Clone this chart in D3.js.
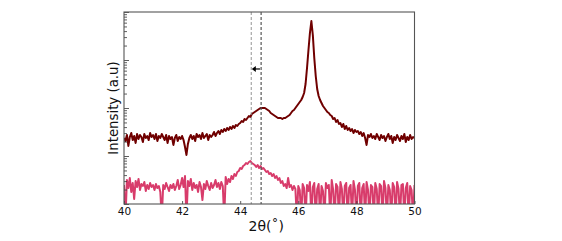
<!DOCTYPE html>
<html>
<head>
<meta charset="utf-8">
<script src="https://cdn.jsdelivr.net/npm/d3@7"></script>
<style>
  html, body { margin: 0; padding: 0; background: #fff; }
  svg { display: block; font-family: "DejaVu Sans", sans-serif; }
</style>
</head>
<body>
<svg id="chart" width="562" height="241"></svg>
<script>
// scan grid (2θ, degrees)
const thetaStart = 40;
const thetaStep = 0.05;

// upper trace, intensity (counts), one value per scan step
const darkRed = [
  237,205,274,162,249,301,215,261,187,287,
  226,274,249,196,287,237,261,215,301,249,
  274,226,287,205,261,237,287,249,215,274,
  187,261,226,249,170,237,274,205,249,226,
  261,
  215,154,105,178,237,274,226,261,205,287,
  249,274,226,301,237,261,287,215,274,249,
  274,316,261,301,332,287,348,316,365,332,
  383,348,402,365,422,383,442,422,464,487,
  536,511,590,562,619,681,649,750,787,825,
  866,909,953,1000,1000,
  1000,1000,953,909,866,787,750,715,681,649,
  619,619,619,590,619,619,649,681,715,787,
  866,909,1000,1101,
  1212,1334,1468,1695,2054,3162,6813,16160,36520,64940,
  33170,11007,4642,2488,1778,1468,1271,1101,1000,909,
  825,
  787,715,681,590,619,511,562,464,487,402,
  464,365,422,348,383,332,365,301,348,316,
  332,287,316,261,301,237,170,274,249,287,
  237,261,226,287,249,215,274,237,261,205,
  249,287,226,261,187,249,215,274,237,205,
  261,226,287,196,249,215,274,226,249,237
];

// lower trace, intensity (counts)
const pink = [
  24.9,5,31.6,21.5,34.8,17.8,27.4,12.7,30.1,22.6,
  33.2,19.6,26.1,23.7,28.7,18.7,24.9,20.5,27.4,22.6,
  24.9,19.6,26.1,21.5,23.7,17.8,5,24.9,20.5,27.4,
  22.6,18.7,24.9,21.5,26.1,19.6,23.7,31.6,20.5,24.9,
  34.8,22.6,38.3,5,30.1,23.7,33.2,19.6,27.4,21.5,
  24.9,17.8,28.7,22.6,12.1,26.1,20.5,30.1,23.7,19.6,
  27.4,21.5,24.9,31.6,22.6,27.4,20.5,28.7,23.7,5,
  36.5,26.1,33.2,28.7,38.3,33.2,42.2,38.3,46.4,48.7,
  56.2,53.6,61.9,64.9,71.5,68.1,75,78.7,71.5,68.1,
  64.9,59,64.9,56.2,61.9,53.6,56.2,51.1,46.4,48.7,
  42.2,44.2,38.3,42.2,34.8,38.3,31.6,34.8,27.4,30.1,
  23.7,26.1,21.5,34.8,22.6,24.9,19.6,23.7,20.5,5,
  23.7,19.6,5,26.1,21.5,5,24.9,18.7,28.7,5,
  22.6,27.4,5,20.5,26.1,5,23.7,18.7,5,27.4,
  21.5,24.9,5,31.6,19.6,5,26.1,22.6,5,28.7,
  20.5,5,23.7,27.4,5,21.5,24.9,5,30.1,19.6,
  5,23.7,27.4,5,21.5,26.1,5,28.7,19.6,5,
  24.9,22.6,5,27.4,20.5,5,26.1,23.7,5,30.1,
  21.5,5,24.9,19.6,5,27.4,22.6,5,28.7,20.5,
  5,24.9,26.1,5,21.5,27.4,5,23.7,19.6,5,
  24.9
];

const xTicks = [40, 42, 44, 46, 48, 50];
const refLines = [44.38, 44.72];      // dashed guide positions (2θ)
const shiftArrow = { from: 44.68, to: 44.40, level: 6500 };

const width = 562, height = 241;
const margin = { top: 12, right: 147.5, bottom: 37, left: 124 };
const innerWidth = width - margin.left - margin.right;
const innerHeight = height - margin.top - margin.bottom;

const svg = d3.select('#chart');
const g = svg.append('g').attr('transform', `translate(${margin.left},${margin.top})`);

const x = d3.scaleLinear().domain([40, 50]).range([0, innerWidth]);
const y = d3.scaleLog().domain([10, 1e5]).range([innerHeight, 0]);

const theta = darkRed.map((_, i) => +(thetaStart + i * thetaStep).toFixed(2));

svg.append('defs').append('clipPath').attr('id', 'plot-clip')
  .append('rect').attr('width', innerWidth).attr('height', innerHeight);

const plot = g.append('g').attr('clip-path', 'url(#plot-clip)');

const line = d3.line()
  .x((d, i) => x(theta[i]))
  .y(d => y(d));

plot.append('path')
  .datum(pink)
  .attr('fill', 'none')
  .attr('stroke', '#d83c6b')
  .attr('stroke-width', 2)
  .attr('stroke-linejoin', 'round')
  .attr('d', line);

plot.append('path')
  .datum(darkRed)
  .attr('fill', 'none')
  .attr('stroke', '#700000')
  .attr('stroke-width', 2)
  .attr('stroke-linejoin', 'round')
  .attr('d', line);

// dashed guides
plot.selectAll('.guide')
  .data(refLines)
  .join('line')
  .attr('class', 'guide')
  .attr('x1', d => x(d)).attr('x2', d => x(d))
  .attr('y1', 0).attr('y2', innerHeight)
  .attr('stroke', (d, i) => i ? '#555' : '#888')
  .attr('stroke-width', (d, i) => i ? 1.2 : 0.9)
  .attr('stroke-dasharray', '3,2');

// shift arrow
const ay = y(shiftArrow.level);
g.append('line')
  .attr('x1', x(shiftArrow.from)).attr('x2', x(shiftArrow.to) + 2)
  .attr('y1', ay).attr('y2', ay)
  .attr('stroke', '#000').attr('stroke-width', 1.2);
g.append('path')
  .attr('d', `M${x(shiftArrow.to)},${ay} l4,-3 l0,6 z`)
  .attr('fill', '#000');

// y axis: log ticks, inward, no labels
const yTicks = y.ticks();
const yAxis = g.append('g')
  .call(d3.axisLeft(y).tickValues(yTicks).tickSize(-3))
  .call(a => a.select('.domain').remove())
  .call(a => a.selectAll('.tick text').remove());
yAxis.selectAll('.tick line')
  .attr('x2', d => Math.abs(Math.log10(d) % 1) < 1e-9 ? 5 : 3)
  .attr('stroke', '#333')
  .attr('stroke-width', 0.8);

// x axis
const xAxis = g.append('g')
  .attr('transform', `translate(0,${innerHeight})`)
  .call(d3.axisBottom(x).tickValues(xTicks).tickSize(-3).tickPadding(4))
  .call(a => a.select('.domain').remove());
xAxis.selectAll('.tick line').attr('stroke', '#333').attr('stroke-width', 0.8);
xAxis.selectAll('text')
  .attr('fill', '#111')
  .attr('font-size', '10.5px')
  .attr('font-family', '"DejaVu Sans", sans-serif');

// frame
g.append('rect')
  .attr('width', innerWidth).attr('height', innerHeight)
  .attr('fill', 'none')
  .attr('stroke', '#555')
  .attr('stroke-width', 1.1);

// axis titles
svg.append('text')
  .attr('x', margin.left + innerWidth / 2 - 3)
  .attr('y', 231)
  .attr('text-anchor', 'middle')
  .attr('font-size', '14px')
  .attr('fill', '#111')
  .text('2θ(˚)');

svg.append('text')
  .attr('transform', `translate(118,${margin.top + innerHeight / 2}) rotate(-90)`)
  .attr('text-anchor', 'middle')
  .attr('font-size', '13.3px')
  .attr('fill', '#111')
  .text('Intensity (a.u)');
</script>
</body>
</html>
